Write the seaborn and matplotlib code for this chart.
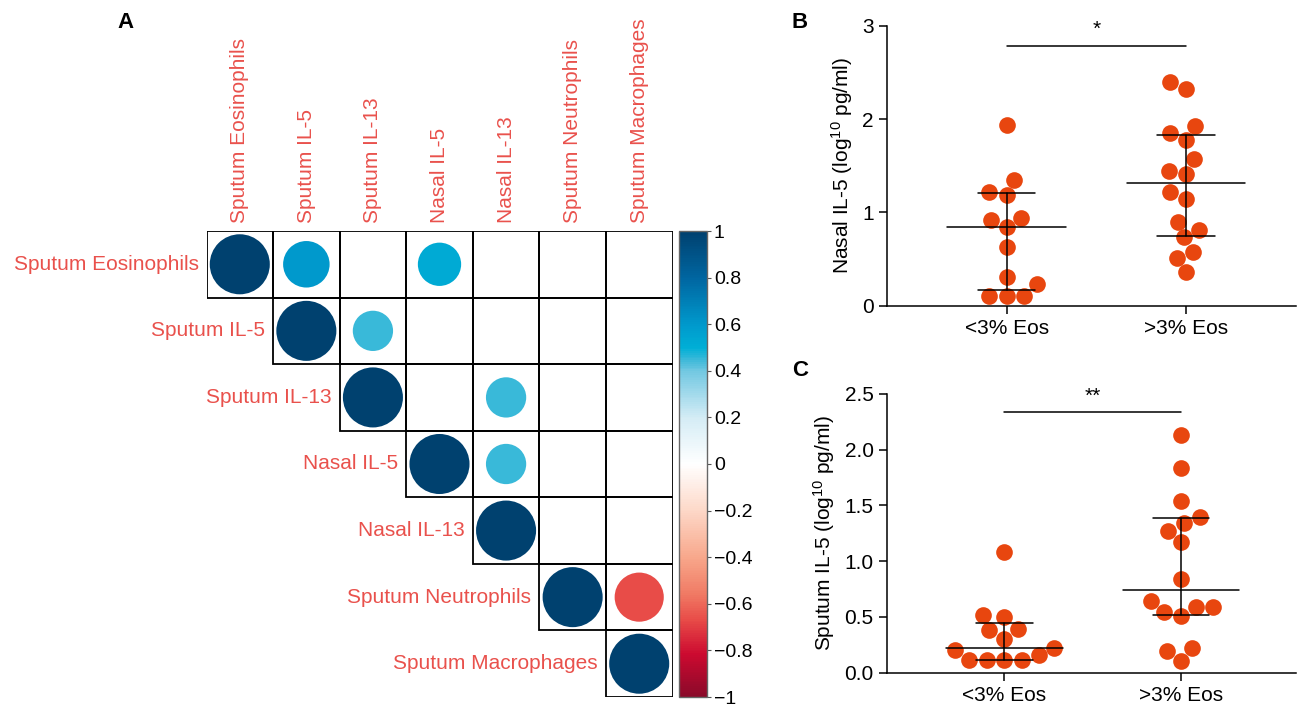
import numpy as np
import pandas as pd
import seaborn as sns
import matplotlib.pyplot as plt
from matplotlib.colors import LinearSegmentedColormap, Normalize
from matplotlib.cm import ScalarMappable
from matplotlib.patches import Rectangle

# ---- data ----
variables = ['Sputum Eosinophils', 'Sputum IL-5', 'Sputum IL-13', 'Nasal IL-5',
             'Nasal IL-13', 'Sputum Neutrophils', 'Sputum Macrophages']

# significant correlations in the upper triangle (row, col, r)
corr_row = [0, 1, 2, 3, 4, 5, 6, 0, 0, 1, 2, 3, 5]
corr_col = [0, 1, 2, 3, 4, 5, 6, 1, 3, 2, 4, 4, 6]
corr_val = [1, 1, 1, 1, 1, 1, 1, 0.60, 0.52, 0.45, 0.45, 0.45, -0.67]

cbar_ticks = [-1, -0.8, -0.6, -0.4, -0.2, 0, 0.2, 0.4, 0.6, 0.8, 1]
cbar_labels = ['\u22121', '\u22120.8', '\u22120.6', '\u22120.4', '\u22120.2', '0',
               '0.2', '0.4', '0.6', '0.8', '1']

groups = ['<3% Eos', '>3% Eos']

nasal_low = [1.936, 1.346, 1.186, 1.221, 0.918, 0.936, 0.839, 0.632, 0.311,
             0.232, 0.107, 0.107, 0.107]
nasal_high = [2.40, 2.321, 1.929, 1.846, 1.775, 1.571, 1.446, 1.411, 1.221,
              1.143, 0.90, 0.811, 0.732, 0.579, 0.507, 0.357]

sputum_low = [1.078, 0.502, 0.52, 0.382, 0.394, 0.305, 0.22, 0.203, 0.155,
              0.113, 0.113, 0.113, 0.113]
sputum_high = [2.133, 1.831, 1.541, 1.398, 1.338, 1.269, 1.168, 0.839, 0.645,
               0.591, 0.585, 0.547, 0.508, 0.224, 0.194, 0.108]

# ---- style ----
sns.set_style('ticks', rc={'axes.edgecolor': 'black', 'text.color': 'black',
                           'axes.labelcolor': 'black', 'xtick.color': 'black',
                           'ytick.color': 'black'})
plt.rcParams['font.family'] = ['Liberation Sans', 'DejaVu Sans']
plt.rcParams['mathtext.fontset'] = 'custom'
plt.rcParams['mathtext.rm'] = 'Liberation Sans'
plt.rcParams['mathtext.it'] = 'Liberation Sans:italic'
plt.rcParams['axes.linewidth'] = 1.1

label_red = '#E9514C'
dot_color = '#E8460F'

cmap = LinearSegmentedColormap.from_list('corr', [
    (0.00, '#8A0A2A'), (0.09, '#CC0A30'), (0.165, '#E84C48'), (0.22, '#F07A64'),
    (0.30, '#F8A88C'), (0.40, '#FDD8C8'), (0.50, '#FFFFFF'), (0.60, '#D4ECF5'),
    (0.70, '#72C8E2'), (0.72, '#46BBDA'), (0.75, '#00AFD6'), (0.80, '#0099CC'),
    (0.90, '#0066A1'), (1.00, '#00416F')])

fig = plt.figure(figsize=(12.98, 7.07), dpi=100)

# ---- panel A: correlation circles ----
grid_rect = [206 / 1298, 1 - 697 / 707, 467 / 1298, 466 / 707]
axA = fig.add_axes(grid_rect)
n = len(variables)
dfc = pd.DataFrame({'x': np.array(corr_col) + 0.5, 'y': np.array(corr_row) + 0.5,
                    'r': corr_val})
dfc['absr'] = dfc['r'].abs()
for i in range(n):
    for j in range(i, n):
        axA.add_patch(Rectangle((j, i), 1, 1, fill=False, ec='black', lw=1.3))
smax = (0.9 * 467 / 7 * 0.72) ** 2
sns.scatterplot(data=dfc, x='x', y='y', hue='r', palette=cmap, hue_norm=(-1, 1),
                size='absr', sizes=(0, smax), size_norm=(0, 1), linewidth=0,
                legend=False, ax=axA, zorder=3)
axA.set_xlim(0, n)
axA.set_ylim(n, 0)
axA.set_aspect('equal')
axA.axis('off')
for k, name in enumerate(variables):
    axA.text(k + 0.5, -0.12, name, rotation=90, ha='center', va='bottom',
             color=label_red, fontsize=15)
    axA.text(k - 0.12, k + 0.5, name, ha='right', va='center',
             color=label_red, fontsize=15)

cax = fig.add_axes([679 / 1298, grid_rect[1], 28 / 1298, grid_rect[3]])
cb = fig.colorbar(ScalarMappable(norm=Normalize(-1, 1), cmap=cmap), cax=cax)
cb.set_ticks(cbar_ticks)
cb.set_ticklabels(cbar_labels)
cb.outline.set_edgecolor('#666666')
cb.outline.set_linewidth(1)
cax.tick_params(labelsize=14, length=3, width=0.8, pad=2, color='#555555')

fig.text(125 / 1298, 1 - 22 / 707, 'A', fontsize=16, fontweight='bold',
         ha='center', va='center')


# ---- panels B and C: scatter with median and IQR ----
def dot_panel(rect, low, high, ylim, yticks, ylabel, bar_y, star, xlim):
    ax = fig.add_axes(rect)
    df = pd.DataFrame({'group': [groups[0]] * len(low) + [groups[1]] * len(high),
                       'value': low + high})
    sns.swarmplot(data=df, x='group', y='value', order=groups, color=dot_color,
                  size=12, linewidth=0, ax=ax, zorder=3)
    for k, vals in enumerate([low, high]):
        q1, med, q3 = np.percentile(vals, [25, 50, 75], method='weibull')
        ax.plot([k - 0.33, k + 0.33], [med, med], color='black', lw=1.1, zorder=4)
        ax.plot([k - 0.16, k + 0.16], [q1, q1], color='black', lw=1.1, zorder=4)
        ax.plot([k - 0.16, k + 0.16], [q3, q3], color='black', lw=1.1, zorder=4)
        ax.plot([k, k], [q1, q3], color='black', lw=1.1, zorder=4)
    ax.plot([0, 1], [bar_y, bar_y], color='black', lw=1.1)
    ax.text(0.5, bar_y + (ylim[1] - ylim[0]) * 0.025, star, ha='center',
            va='bottom', fontsize=15)
    ax.set_xlim(*xlim)
    ax.set_ylim(*ylim)
    ax.set_yticks(yticks)
    ax.set_xlabel('')
    ax.set_ylabel(ylabel, fontsize=15, labelpad=5)
    ax.tick_params(labelsize=15, length=6, width=1.1)
    sns.despine(ax=ax)
    return ax


axB = dot_panel([886.7 / 1298, 1 - 305.7 / 707, 409 / 1298, 280 / 707],
                nasal_low, nasal_high, (0, 3), [0, 1, 2, 3],
                'Nasal IL-5 (log$^{10}$ pg/ml)', 2.786, '*', (-0.668, 1.61))
axB.set_yticklabels(['0', '1', '2', '3'])

axC = dot_panel([886.7 / 1298, 1 - 672.7 / 707, 409 / 1298, 279 / 707],
                sputum_low, sputum_high, (0, 2.5), [0, 0.5, 1.0, 1.5, 2.0, 2.5],
                'Sputum IL-5 (log$^{10}$ pg/ml)', 2.333, '**', (-0.666, 1.65))
axC.set_yticklabels(['0.0', '0.5', '1.0', '1.5', '2.0', '2.5'])

fig.text(800 / 1298, 1 - 22 / 707, 'B', fontsize=16, fontweight='bold',
         ha='center', va='center')
fig.text(800 / 1298, 1 - 370 / 707, 'C', fontsize=16, fontweight='bold',
         ha='center', va='center')

fig.savefig('out.png', dpi=100)
